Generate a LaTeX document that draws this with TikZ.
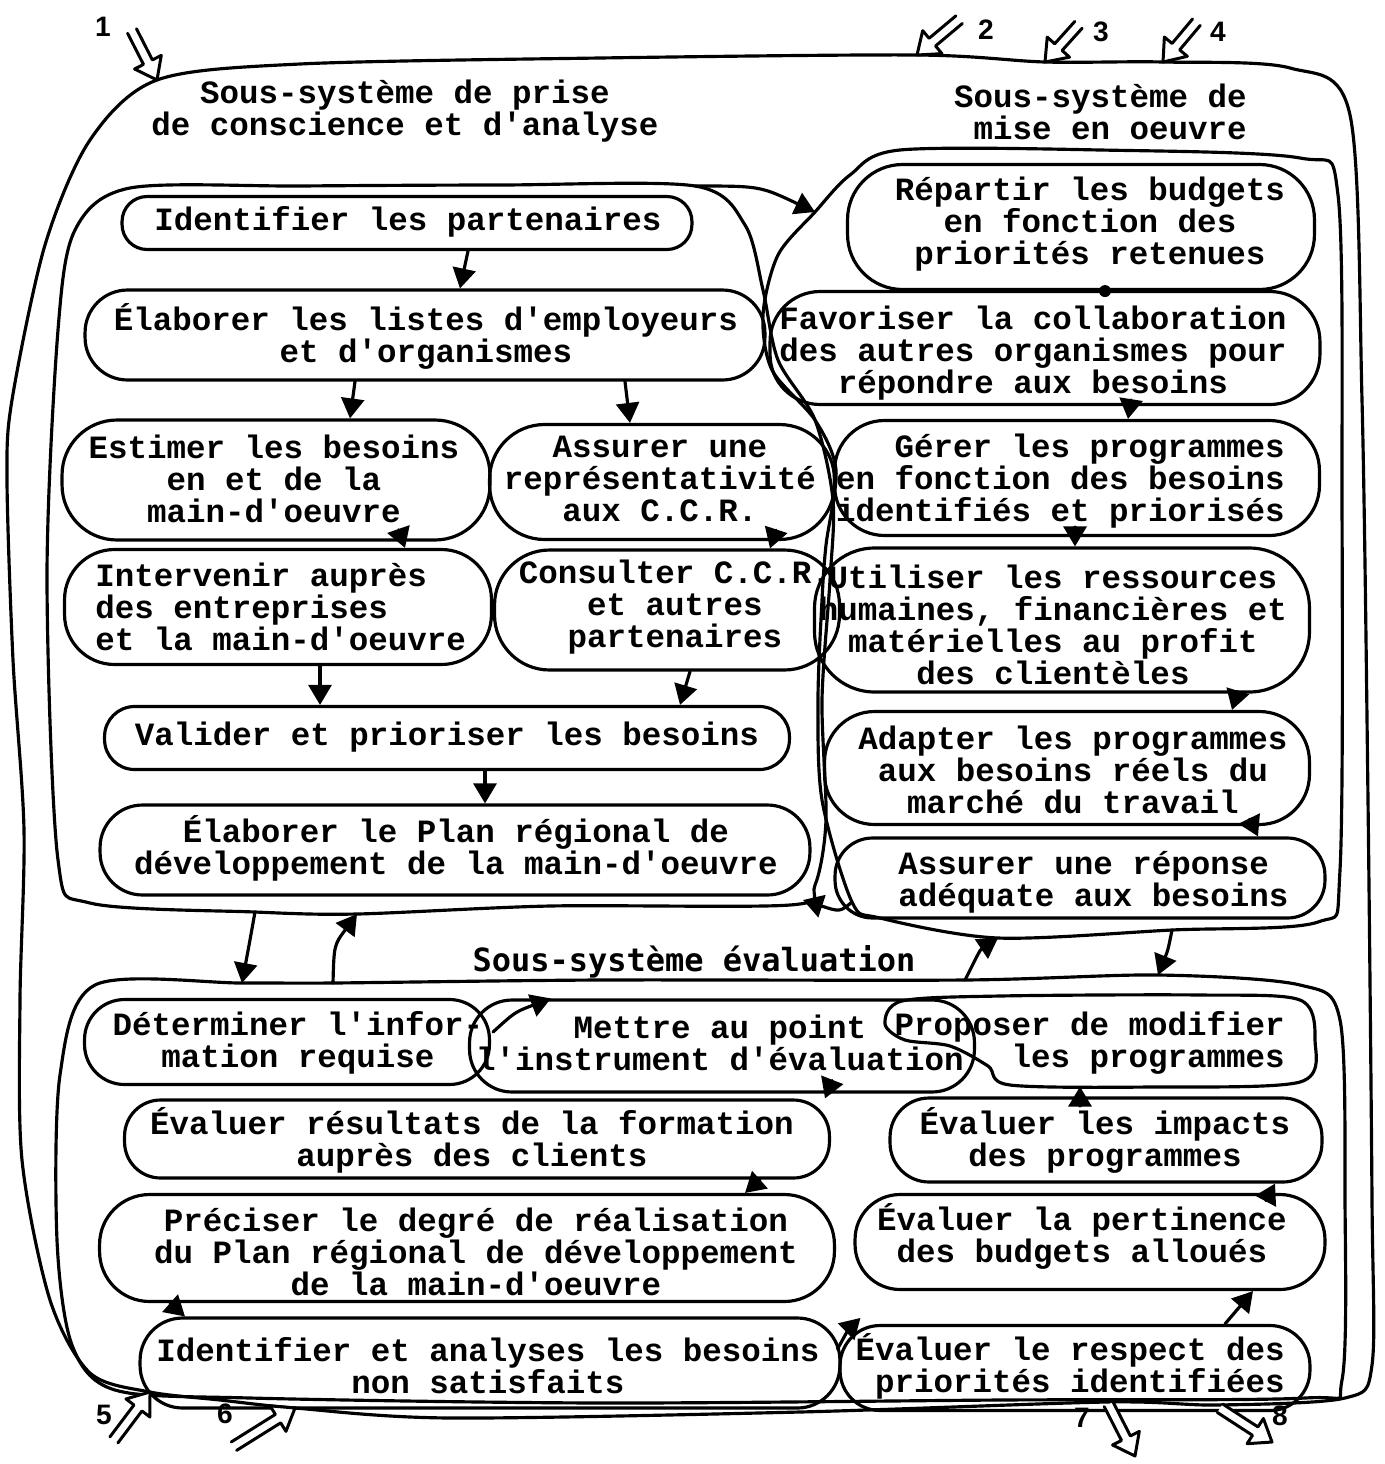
\documentclass[tikz,border=0pt]{standalone}
\usepackage{fontspec}
\setmonofont{Liberation Mono}
\newfontfamily\evalfont{DejaVu Sans Mono}
\newfontfamily\numfont{Liberation Sans}
\usetikzlibrary{arrows.meta,calc}
\newcommand\typefont{\ttfamily\bfseries\fontsize{18.5}{18.2}\selectfont}

\begin{document}
\begin{tikzpicture}[x=0.02cm,y=-0.02cm,
  ink/.style={line width=1.8pt, line join=round, line cap=round},
  blob/.style n args={3}{draw, ink, rectangle, inner sep=0pt,
    minimum width=#1cm, minimum height=#2cm, rounded corners=#3cm},
  txt/.style={font=\typefont, align=center, inner sep=0pt},
  num/.style={font=\numfont\bfseries\fontsize{16}{16}\selectfont, inner sep=0pt},
  arr/.style={ink, -{Triangle[length=0.4cm,width=0.46cm]}},
  hollow/.pic={\draw[ink, line width=1.7pt, fill=white]
      (-#1,-5) -- (-20,-5) -- (-20,-15) -- (0,0) -- (-20,15) -- (-20,5) -- (-#1,5);},
]
\useasboundingbox (0,0) rectangle (1384,1464);

% ---------- free ends on the container outlines ----------
\coordinate (in1) at (157,80);
\coordinate (in2) at (917,55);
\coordinate (in3) at (1045,62);
\coordinate (in4) at (1163,62);
\coordinate (in5) at (150,1392);
\coordinate (in6) at (295,1408);
\coordinate (out7) at (1135,1456);
\coordinate (out8) at (1272,1442);
\coordinate (lcTR) at (695,186);
\coordinate (lcBR) at (803,900);
\coordinate (lcB1) at (255,912);
\coordinate (lcB2) at (357,914);
\coordinate (rcTL) at (815,212);
\coordinate (rcBL) at (852,902);
\coordinate (rcB1) at (998,938);
\coordinate (rcB2) at (1172,930);
\coordinate (evT1) at (242,983);
\coordinate (evT2) at (333,983);
\coordinate (evT3) at (965,980);
\coordinate (evT4) at (1158,975);

% ---------- outer system ----------
\draw[ink] plot[smooth cycle] coordinates {
  (157,80) (300,64) (600,58) (917,55) (1045,62) (1163,62) (1290,68)
  (1350,115) (1362,400) (1368,800) (1372,1200) (1372,1365) (1345,1398)
  (1217,1405) (1107,1402) (800,1412) (450,1418) (295,1408) (220,1400)
  (150,1392) (90,1373) (50,1300) (22,1160) (20,1000) (24,830) (13,660)
  (7,480) (12,400) (45,245) (90,140)};

% ---------- sub-system outlines ----------
\draw[ink] plot[smooth cycle] coordinates {
  (130,188) (300,186) (500,185) (695,186) (745,225) (763,290) (778,360)
  (815,420) (833,500) (830,580) (822,700) (826,820) (815,885) (790,905)
  (550,906) (357,914) (255,912) (90,903) (58,860) (47,577) (58,330) (75,230)};
\draw[ink] plot[smooth cycle] coordinates {
  (900,150) (1100,150) (1300,158) (1338,195) (1342,500) (1340,870)
  (1318,922) (1172,930) (998,938) (880,918) (852,902) (822,800) (818,700)
  (822,600) (826,545) (836,470) (815,420) (772,370) (763,315) (778,255)
  (815,212) (850,175)};
\draw[ink] plot[smooth cycle] coordinates {
  (95,985) (242,983) (333,983) (600,980) (965,980) (1158,975) (1300,985)
  (1340,1020) (1345,1200) (1342,1380) (1305,1398) (1000,1400) (600,1403)
  (250,1398) (115,1390) (72,1345) (57,1240) (60,1075)};

% ---------- titles ----------
\node[txt] (T1) at (405,111) {Sous-système de prise\\de conscience et d'analyse};
\node[txt, align=right, anchor=east] (T2) at (1247,112) {Sous-système de\\mise en oeuvre};
\node[inner sep=0pt, font=\evalfont\bfseries\fontsize{18.2}{18}\selectfont] (T3) at (694,962) {Sous-système évaluation};

% ---------- prise de conscience et analyse ----------
\node[blob={11.4}{1.06}{0.5}] (L1) at (407,223) {};
\node[blob={13.6}{1.8}{0.85}] (L2) at (425,335) {};
\node[blob={8.56}{2.4}{1.1}] (L3) at (276,480) {};
\node[blob={6.9}{2.3}{1.1}] (L4) at (662,482) {};
\node[blob={8.54}{2.3}{1.0}] (L5) at (278,607) {};
\node[blob={6.9}{2.4}{1.1}] (L6) at (667,610) {};
\node[blob={13.7}{1.26}{0.6}] (L7) at (447,738) {};
\node[blob={14.2}{1.8}{0.85}] (L8) at (455,850) {};

\node[txt] (L1t) at (408,222) {Identifier les partenaires};
\node[txt] (L2t) at (426,336) {Élaborer les listes d'employeurs\\et d'organismes};
\node[txt] (L3t) at (274,479) {Estimer les besoins\\en et de la\\main-d'oeuvre};
\node[txt] (L4t) at (660,479) {Assurer une\\représentativité\\aux C.C.R.};
\node[txt, align=left, anchor=west] (L5t) at (95,607) {Intervenir auprès\\des entreprises\\et la main-d'oeuvre};
\node[txt] (L6t) at (675,607) {Consulter C.C.R.\\et autres\\partenaires};
\node[txt] (L7t) at (447,737) {Valider et prioriser les besoins};
\node[txt] (L8t) at (456,848) {Élaborer le Plan régional de\\développement de la main-d'oeuvre};

% ---------- mise en oeuvre ----------
\node[blob={9.34}{2.5}{1.1}] (R1) at (1081,227) {};
\node[blob={11.0}{2.26}{1.0}] (R2) at (1045,348) {};
\node[blob={9.7}{2.3}{1.0}] (R3) at (1077,478) {};
\node[blob={9.9}{2.88}{1.2}] (R4) at (1062,620) {};
\node[blob={9.7}{2.26}{1.0}] (R5) at (1067,768) {};
\node[blob={9.8}{1.6}{0.75}] (R6) at (1080,878) {};

\node[txt] (R1t) at (1090,224) {Répartir les budgets\\en fonction des\\priorités retenues};
\node[txt] (R2t) at (1033,353) {Favoriser la collaboration\\des autres organismes pour\\répondre aux besoins};
\node[txt, align=right, anchor=east] (R3t) at (1285,481) {Gérer les programmes\\en fonction des besoins\\identifiés et priorisés};
\node[txt] (R4t) at (1053,625) {Utiliser les ressources\\humaines, financières et\\matérielles au profit\\des clientèles};
\node[txt] (R5t) at (1073,770) {Adapter les programmes\\aux besoins réels du\\marché du travail};
\node[txt, align=left, anchor=west] (R6t) at (898,882) {Assurer une réponse\\adéquate aux besoins};

% ---------- evaluation ----------
\node[blob={8.1}{1.7}{0.8}] (E1) at (287,1042) {};
\node[blob={10.1}{1.84}{0.85}] (E2) at (722,1046) {};
% E3 keeps its anchors; its outline is drawn by hand below
\node[blob={8.6}{1.76}{0.5}, draw=none] (E3) at (1100,1041) {};
\draw[ink] plot[smooth cycle] coordinates {
  (902,1001) (1000,996) (1200,995) (1300,1000) (1315,1040) (1300,1082)
  (1150,1087) (1010,1085) (988,1066) (950,1046) (905,1040) (885,1024)};
\node[blob={14.1}{1.56}{0.72}] (E4) at (477,1139) {};
\node[blob={8.64}{1.68}{0.78}] (E5) at (1106,1140) {};
\node[blob={14.7}{2.14}{1.0}] (E6) at (467,1248) {};
\node[blob={9.4}{1.9}{0.9}] (E7) at (1090,1242) {};
\node[blob={14.0}{1.8}{0.85}] (E8) at (490,1363) {};
\node[blob={9.4}{1.7}{0.8}] (E9) at (1075,1368) {};

\node[txt] (E1t) at (298,1043) {Déterminer l'infor-\\mation requise};
\node[txt] (E2t) at (720,1043) {Mettre au point\\l'instrument d'évaluation};
\node[txt, align=right, anchor=east] (E3t) at (1285,1043) {Proposer de modifier\\les programmes};
\node[txt] (E4t) at (472,1140) {Évaluer résultats de la formation\\auprès des clients};
\node[txt] (E5t) at (1105,1140) {Évaluer les impacts\\des programmes};
\node[txt] (E6t) at (476,1252) {Préciser le degré de réalisation\\du Plan régional de développement\\de la main-d'oeuvre};
\node[txt] (E7t) at (1082,1236) {Évaluer la pertinence\\des budgets alloués};
\node[txt] (E8t) at (488,1366) {Identifier et analyses les besoins\\non satisfaits};
\node[txt, align=right, anchor=east] (E9t) at (1285,1366) {Évaluer le respect des\\priorités identifiées};

% ---------- flows inside prise de conscience ----------
\draw[arr] ($(L1.south)+(61,0)$) -- ($(L2.north)+(35,0)$);
\draw[arr] ($(L2.south)+(-70,0)$) -- ($(L3.north)+(74,0)$);
\draw[arr] ($(L2.south)+(200,0)$) -- ($(L4.north)+(-32,0)$);
\draw[arr] ($(L3.south)+(124,-8)$) -- ($(L5.north)+(127,0)$);
\draw[arr] ($(L4.south)+(113,-8)$) -- ($(L6.north)+(103,0)$);
\draw[arr] ($(L5.south)+(42,0)$) -- ($(L7.north)+(-127,0)$);
\draw[arr] ($(L6.south)+(23,0)$) -- ($(L7.north)+(233,0)$);
\draw[arr] ($(L7.south)+(38,0)$) -- ($(L8.north)+(30,0)$);

% ---------- flows inside mise en oeuvre ----------
\fill ($(R1.south)+(24,0)$) circle[radius=6];
\draw[arr] ($(R2.south)+(85,0)$) -- ($(R3.north)+(51,0)$);
\draw[arr] ($(R3.south)+(-2,-8)$) -- ($(R4.north)+(13,0)$);
\draw[arr] ($(R4.south)+(175,0)$) -- ($(R5.north)+(165,0)$);
\draw[arr] ($(R5.south)+(183,-6)$) -- ($(R6.north)+(178,0)$);

% ---------- flows between sub-systems ----------
\draw[arr] (lcTR) .. controls (760,186) .. (rcTL);
\draw[arr] (rcBL) .. controls (840,912) .. (lcBR);
\draw[arr] (lcB1) .. controls (250,940) .. (evT1);
\draw[arr] (evT2) .. controls (334,945) .. (lcB2);
\draw[arr] (evT3) .. controls (980,950) .. (rcB1);
\draw[arr] (rcB2) .. controls (1168,950) .. (evT4);

% ---------- flows inside evaluation ----------
\draw[arr] ($(E1.east)+(2,-10)$) .. controls (515,1012) .. ($(E2.north west)+(83,0)$);
\draw[arr] ($(E2.south)+(108,-8)$) -- ($(E4.north)+(348,0)$);
\draw[arr] ($(E4.south)+(283,0)$) -- ($(E6.north)+(278,0)$);
\draw[arr] ($(E6.south)+(-297,0)$) -- ($(E8.north)+(-305,0)$);
\draw[arr] ($(E8.east)+(-4,-14)$) .. controls (848,1330) .. ($(E9.north west)+(22,-6)$);
\draw[arr] ($(E9.north)+(150,0)$) -- ($(E7.south)+(163,0)$);
\draw[arr] ($(E7.north)+(180,0)$) -- ($(E5.south)+(169,0)$);
\draw[arr] ($(E5.north)+(-26,0)$) -- ($(E3.south)+(-20,0)$);

% ---------- inputs and outputs of the system ----------
\pic[rotate=-63] at (in1) {hollow=55};
\pic[rotate=-140] at (in2) {hollow=55};
\pic[rotate=-132] at (in3) {hollow=50};
\pic[rotate=-130] at (in4) {hollow=52};
\pic[rotate=53] at (in5) {hollow=60};
\pic[rotate=32] at (in6) {hollow=72};
\pic[rotate=-63] at (out7) {hollow=58};
\pic[rotate=-33] at (out8) {hollow=62};

\node[num] (n1) at (103,27) {1};
\node[num] (n2) at (986,30) {2};
\node[num] (n3) at (1101,32) {3};
\node[num] (n4) at (1218,32) {4};
\node[num] (n5) at (104,1415) {5};
\node[num] (n6) at (225,1414) {6};
\node[num] (n7) at (1082,1418) {7};
\node[num] (n8) at (1280,1416) {8};
\end{tikzpicture}
\end{document}
